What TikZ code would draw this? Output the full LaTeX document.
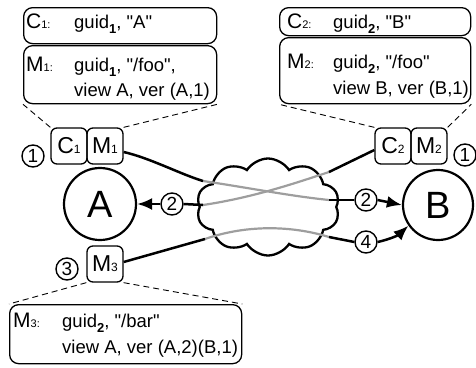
\documentclass[tikz,border=0pt]{standalone}
\usepackage{fontspec}
\setmainfont{Liberation Sans}[Ligatures=TeXOff]
\usetikzlibrary{arrows.meta,shapes.symbols}
\newcommand\gsub[1]{\raisebox{-5pt}{\fontsize{13}{13}\selectfont\bfseries #1}}
\newcommand\lbl[2]{{\fontsize{21}{21}\selectfont #1}{\fontsize{11}{11}\selectfont #2}}
\newcommand\slbl[2]{{\fontsize{23}{23}\selectfont #1}{\fontsize{12}{12}\selectfont #2}}
\begin{document}
\begin{tikzpicture}[x=1pt,y=-1pt,
  bigbox/.style={draw, rounded corners=9pt, line width=1.3pt, anchor=north west, inner sep=0pt},
  boxtxt/.style={anchor=base west, inner sep=0pt, font=\fontsize{18.5}{20}\selectfont},
  smallbox/.style={draw, rounded corners=6pt, line width=1.3pt, minimum width=36pt, minimum height=36pt, inner sep=0pt},
  host/.style={circle, draw, line width=2.2pt, inner sep=0pt, font=\fontsize{38}{38}\selectfont},
  num/.style={circle, draw, line width=1.4pt, minimum size=22pt, inner sep=0pt, font=\fontsize{19}{19}\selectfont},
  conn/.style={line width=2.5pt},
  gline/.style={line width=2.2pt, black!38},
  arr/.style={line width=2.5pt, -{Latex[length=15pt,width=12pt]}},
  dashline/.style={line width=0.9pt, dash pattern=on 6pt off 4pt}
]
\useasboundingbox (0,0) rectangle (476,367);

% big text boxes
\node[bigbox, minimum width=193pt, minimum height=36pt] (c1box) at (23,7) {};
\node[bigbox, minimum width=193pt, minimum height=58pt] (m1box) at (23,45) {};
\node[bigbox, minimum width=191pt, minimum height=28pt] (c2box) at (279,7) {};
\node[bigbox, minimum width=191pt, minimum height=66pt] (m2box) at (279,37) {};
\node[bigbox, minimum width=232pt, minimum height=59pt] (m3box) at (9,304) {};

\node[boxtxt] (c1l) at (26,28) {\lbl{C}{1:}};
\node[boxtxt] (c1t) at (74,28) {guid\gsub{1}, "A"};
\node[boxtxt] (m1l) at (26,71) {\lbl{M}{1:}};
\node[boxtxt] (m1t) at (74,71) {guid\gsub{1}, "/foo",};
\node[boxtxt] (m1u) at (74,96) {view A, ver (A,1)};

\node[boxtxt] (c2l) at (287,28) {\lbl{C}{2:}};
\node[boxtxt] (c2t) at (333,28) {guid\gsub{2}, "B"};
\node[boxtxt] (m2l) at (287,68) {\lbl{M}{2:}};
\node[boxtxt] (m2t) at (333,68) {guid\gsub{2}, "/foo"};
\node[boxtxt] (m2u) at (333,94) {view B, ver (B,1)};

\node[boxtxt] (m3l) at (13,327) {\lbl{M}{3:}};
\node[boxtxt] (m3t) at (62,327) {guid\gsub{2}, "/bar"};
\node[boxtxt] (m3u) at (62,353) {view A, ver (A,2)(B,1)};

% small message nodes
\node[smallbox] (C1) at (69,146) {\slbl{C}{1}};
\node[smallbox] (M1) at (105,146) {\slbl{M}{1}};
\node[smallbox] (C2) at (393,146) {\slbl{C}{2}};
\node[smallbox] (M2) at (429,146) {\slbl{M}{2}};
\node[smallbox] (M3) at (105,264) {\slbl{M}{3}};

% hosts
\node[host, minimum size=72pt] (A) at (100,204) {A};
\node[host, minimum size=70pt] (B) at (438,205) {B};

% cloud
\node[cloud, draw, line width=2.3pt, cloud puffs=10, cloud puff arc=115, aspect=1.47,
      minimum width=143pt, minimum height=97pt, inner sep=0pt] (net) at (268,207) {};

% numbers
\node[num] (n1l) at (33,156) {1};
\node[num] (n1r) at (465,155) {1};
\node[num] (n2a) at (172,204) {2};
\node[num] (n2b) at (366,200) {2};
\node[num] (n4) at (366,242) {4};
\node[num] (n3) at (67,269) {3};

% points on the cloud
\coordinate (p1in) at (203,181);
\coordinate (p1out) at (329,200);
\coordinate (p2in) at (329,172);
\coordinate (p2out) at (203,205);
\coordinate (p3in) at (205,239);
\coordinate (p3out) at (329,237);

% grey paths inside the cloud
\draw[gline] (p1in) .. controls (250,188) and (290,196) .. (p1out);
\draw[gline] (p2in) .. controls (290,185) and (250,198) .. (p2out);
\draw[gline] (p3in) .. controls (245,225) and (290,225) .. (p3out);

% black connectors
\draw[conn] ([yshift=-6pt]M1.east) .. controls (150,158) and (180,174) .. (p1in);
\draw[conn] (p1out) -- (n2b.west);
\draw[arr] (n2b.east) -- (B.west);
\draw[conn] ([yshift=-4pt]C2.west) -- (p2in);
\draw[conn] (p2out) -- (n2a.east);
\draw[arr] (n2a.west) -- (A.east);
\draw[conn] ([yshift=2pt]M3.east) -- (p3in);
\draw[conn] (p3out) -- (n4.west);
\draw[arr] (n4.east) to[bend right=15] (B.-145);

% dashed callouts
\draw[dashline] (C1.north west) -- (m1box.south west);
\draw[dashline] (M1.north east) -- (m1box.south east);
\draw[dashline] (C2.north west) -- (m2box.south west);
\draw[dashline] (M2.north east) -- (m2box.south east);
\draw[dashline] (M3.south west) -- (m3box.north west);
\draw[dashline] (M3.south east) -- (m3box.north east);
\end{tikzpicture}
\end{document}
